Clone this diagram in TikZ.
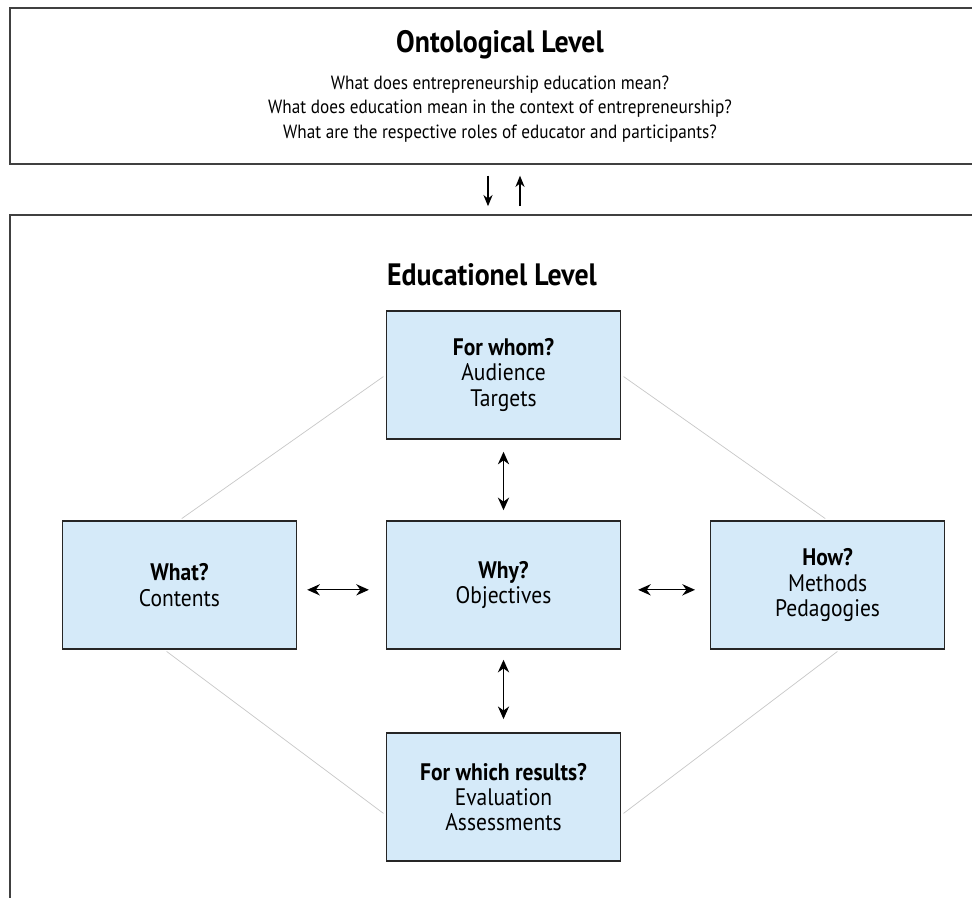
\documentclass[tikz,border=0pt]{standalone}
\usepackage{fontspec}
\setmainfont{PT Sans}[FakeStretch=0.9]
\usetikzlibrary{arrows.meta}
\usetikzlibrary{positioning}
\definecolor{boxblue}{HTML}{D5EAF9}
\definecolor{linkgray}{HTML}{C8C8C8}
\tikzstyle{level_frame} = [
    rectangle,
    draw=black!75,
    line width=1pt,
    align=center,
    inner sep=0pt
]
\tikzstyle{blue_box} = [
    rectangle,
    draw=black!85,
    fill=boxblue,
    line width=1.1pt,
    align=center,
    minimum width=5.85cm,
    minimum height=3.2cm,
    font=\fontsize{17}{18}\selectfont
]
\tikzstyle{link} = [
    draw=linkgray,
    line width=0.5pt,
    shorten <=2pt,
    shorten >=2pt
]
\tikzstyle{two_way} = [
    {Stealth[length=9pt,width=8pt]}-{Stealth[length=9pt,width=8pt]},
    line width=0.9pt
]
\tikzstyle{one_way} = [
    -{Stealth[length=8pt,width=6.5pt]},
    line width=0.8pt
]

\begin{document}
\begin{tikzpicture}[
    x=0.025cm, y=-0.025cm,
    node distance=5.25cm and 8.1cm,
    on grid
]
\useasboundingbox (0,0) rectangle (972,897);
\clip (0,0) rectangle (972,897);
\fill [white] (0,0) rectangle (972,897);

% the two levels
\node [level_frame, minimum width=24.5cm, minimum height=3.9cm,
    font=\fontsize{13.6}{17.4}\selectfont] (onto) at (500,86) {
    {\bfseries\fontsize{22}{24}\selectfont Ontological Level}\\[9pt]
    What does entrepreneurship education mean?\\
    What does education mean in the context of entrepreneurship?\\
    What are the respective roles of educator and participants?
};
\node [level_frame, minimum width=24.5cm, minimum height=17.6cm] (edu) at (500,567) {};
\node [font=\bfseries\fontsize{22}{24}\selectfont] (edu_title) at (492,275) {Educationel Level};

\draw [one_way, shorten <=0.275cm, shorten >=0.2cm] ([xshift=-0.3cm]onto.south) -- ([xshift=-0.3cm]edu.north);
\draw [one_way, shorten <=0.2cm, shorten >=0.275cm] ([xshift=0.5cm]edu.north) -- ([xshift=0.5cm]onto.south);

% the five questions
\node [blue_box] (why) at (503.5,585) {\textbf{Why?}\\Objectives};
\node [blue_box, above=of why] (whom) {\textbf{For whom?}\\Audience\\Targets};
\node [blue_box, below=5.3cm of why] (results) {\textbf{For which results?}\\Evaluation\\Assessments};
\node [blue_box, left=of why] (what) {\textbf{What?}\\Contents};
\node [blue_box, right=of why] (how) {\textbf{How?}\\Methods\\Pedagogies};

\draw [link] (whom.west) -- (what.north);
\draw [link] (whom.east) -- (how.north);
\draw [link] ([xshift=-0.375cm]what.south) -- ([yshift=-0.45cm]results.west);
\draw [link] ([xshift=0.3cm]how.south) -- ([yshift=-0.45cm]results.east);

\draw [two_way, shorten <=0.3cm, shorten >=0.25cm] (whom) -- (why);
\draw [two_way, shorten <=0.25cm, shorten >=0.33cm] (why) -- (results);
\draw [two_way, shorten <=0.25cm, shorten >=0.42cm] ([yshift=-0.12cm]what.east) -- ([yshift=-0.12cm]why.west);
\draw [two_way, shorten <=0.42cm, shorten >=0.37cm] ([yshift=-0.12cm]why.east) -- ([yshift=-0.12cm]how.west);
\end{tikzpicture}
\end{document}
